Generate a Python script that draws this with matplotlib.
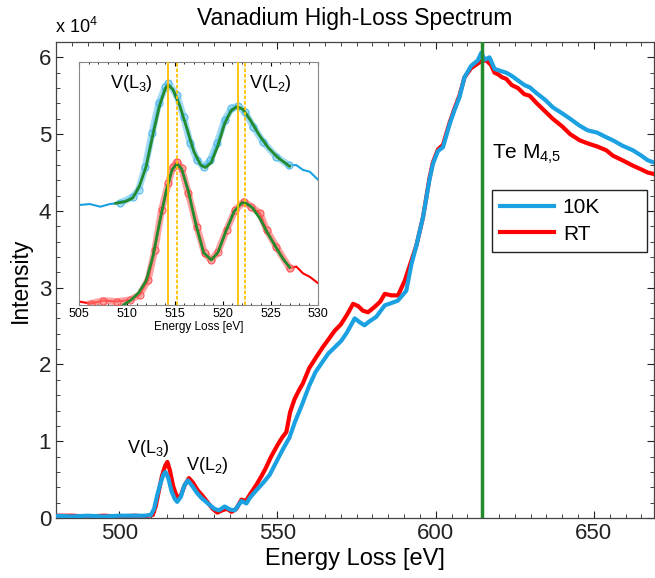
import matplotlib
matplotlib.use("Agg")
import matplotlib.pyplot as plt
from matplotlib.ticker import MultipleLocator

plt.rcParams['font.family'] = ['Liberation Sans', 'DejaVu Sans']
plt.rcParams['mathtext.fontset'] = 'custom'
plt.rcParams['mathtext.rm'] = 'Liberation Sans'

# ---------------- main spectrum data (intensity in units of 1e4) ----------------
x_10k = [480, 485, 490, 495, 500, 505, 508, 510, 511, 512, 513, 514, 514.6, 515.5, 516.5,
         517.5, 518.3, 519.5, 520.5, 521.7, 523, 524.5, 526, 528, 530, 531.5, 533.3, 535,
         536.5, 538.6, 540.2, 541.2, 543.3, 545.5, 547.5, 549.5, 551.5, 553.8, 555.5, 557.5,
         560, 562, 564, 566, 568, 570.2, 572, 574.4, 576, 577.5, 579, 581.2, 583.9, 586, 588,
         590.7, 592.3, 593.9, 596, 598, 599.1, 600.7, 602.3, 604.4, 606, 607.5, 609.1, 611.2,
         613.3, 614.4, 615.5, 617, 618.6, 620, 622.3, 624, 626, 628, 629.7, 632, 634.5, 637,
         640, 642.5, 645.5, 648, 651, 653.9, 656, 659, 662.3, 665, 667, 669]
y_10k = [0.03, 0.02, 0.03, 0.02, 0.03, 0.03, 0.03, 0.04, 0.12, 0.30, 0.45, 0.57, 0.60, 0.52, 0.35,
         0.25, 0.21, 0.28, 0.42, 0.49, 0.42, 0.33, 0.26, 0.19, 0.12, 0.10, 0.15, 0.11,
         0.10, 0.22, 0.19, 0.26, 0.36, 0.46, 0.56, 0.72, 0.88, 1.05, 1.25, 1.45,
         1.72, 1.90, 2.02, 2.14, 2.22, 2.31, 2.42, 2.60, 2.55, 2.51, 2.56, 2.62, 2.77, 2.80, 2.83,
         2.96, 3.30, 3.55, 3.92, 4.40, 4.61, 4.78, 4.83, 5.13, 5.32, 5.48, 5.74, 5.89,
         5.96, 6.06, 5.97, 6.00, 5.85, 5.83, 5.80, 5.76, 5.70, 5.64, 5.61, 5.53, 5.45, 5.35,
         5.27, 5.20, 5.11, 5.05, 5.02, 4.96, 4.92, 4.85, 4.79, 4.72, 4.66, 4.63]

x_rt = [480, 485, 490, 495, 500, 505, 508, 510.6, 511.5, 512.5, 513.5, 514.5, 515.2, 516, 517,
        518.3, 519.5, 520.7, 522, 523.3, 524.8, 526.3, 528, 529.5, 531, 532.5, 534, 535.5, 537,
        538.6, 540, 541.5, 543.3, 545, 546.3, 548, 550, 551.5, 552.8, 554, 555.4, 557, 558,
        560, 562, 564.4, 566, 568.1, 570, 572, 573.9, 575.5, 577, 578.6, 580.7, 582.5, 583.9,
        586, 588.1, 590.2, 592.3, 593.9, 596, 598, 599.1, 600.7, 602.3, 604.4, 606, 607.5,
        609.1, 611.2, 613.3, 614.4, 616, 617.5, 618.6, 619.7, 621, 622.3, 624, 626, 628,
        629.7, 632, 634.5, 637, 640, 642.5, 645.5, 648, 651, 653.9, 656, 659, 662.3, 665, 667, 669]
y_rt = [0.03, 0.03, 0.02, 0.03, 0.02, 0.03, 0.02, 0.04, 0.15, 0.35, 0.55, 0.68, 0.73, 0.62, 0.42,
        0.26, 0.30, 0.43, 0.52, 0.46, 0.36, 0.29, 0.20, 0.12, 0.07, 0.10, 0.12, 0.08, 0.12,
        0.24, 0.22, 0.32, 0.43, 0.55, 0.65, 0.80, 0.95, 1.05, 1.12, 1.38, 1.55, 1.68, 1.75,
        1.95, 2.08, 2.23, 2.32, 2.44, 2.52, 2.65, 2.79, 2.76, 2.70, 2.68, 2.75, 2.82, 2.92,
        2.90, 2.90, 3.09, 3.35, 3.55, 3.92, 4.42, 4.63, 4.80, 4.86, 5.15, 5.34, 5.50,
        5.74, 5.86, 5.92, 5.95, 5.96, 5.90, 5.80, 5.78, 5.74, 5.72, 5.64, 5.60, 5.52,
        5.50, 5.40, 5.30, 5.20, 5.10, 5.00, 4.92, 4.88, 4.84, 4.79, 4.72, 4.66, 4.59, 4.54, 4.50, 4.48]

te_edge = 614.7
series_labels = ['10K', 'RT']

# ---------------- inset data (normalised, offset spectra) ----------------
ix_10k = [505, 506.1, 507.2, 508.2, 509.3, 510.6, 511.2, 511.9, 512.6, 513.3, 514.0, 514.3,
          515.2, 515.9, 516.6, 517.3, 518.0, 518.7, 519.4, 520.2, 520.9, 521.6, 522.3, 523.2,
          524.2, 525.6, 526.9, 527.7, 528.4, 529.1, 530]
iy_10k = [0.411, 0.415, 0.404, 0.415, 0.42, 0.445, 0.473, 0.568, 0.706, 0.829, 0.897, 0.911,
          0.863, 0.774, 0.665, 0.596, 0.568, 0.596, 0.665, 0.760, 0.808, 0.818, 0.794, 0.733,
          0.671, 0.61, 0.575, 0.575, 0.555, 0.548, 0.514]
ix_rt = [505, 506.2, 507.5, 508.9, 510.3, 511.3, 512.2, 512.9, 513.6, 514.3, 514.8, 515.2,
         515.7, 516.4, 517.3, 518.1, 518.8, 519.5, 520.4, 521.3, 522.2, 523.0, 523.9, 524.6,
         525.6, 527.0, 527.7, 528.4, 529.1, 530]
iy_rt = [0.014, 0.006, 0.018, 0.014, 0.021, 0.041, 0.103, 0.226, 0.39, 0.50, 0.568, 0.589,
         0.562, 0.459, 0.322, 0.212, 0.185, 0.219, 0.308, 0.39, 0.425, 0.404, 0.377, 0.308,
         0.24, 0.151, 0.158, 0.13, 0.116, 0.089]
# fitted curves
fx_10k = [508.8, 509.8, 510.6, 511.3, 512.0, 512.7, 513.4, 514.0, 514.3, 514.8, 515.5, 516.3,
          517.0, 517.7, 518.2, 518.8, 519.5, 520.2, 520.9, 521.5, 522.1, 522.9, 523.8, 524.8,
          525.8, 527.0]
fy_10k = [0.418, 0.425, 0.44, 0.49, 0.57, 0.70, 0.82, 0.89, 0.905, 0.885, 0.82, 0.72,
          0.63, 0.575, 0.565, 0.585, 0.655, 0.745, 0.80, 0.815, 0.805, 0.76, 0.70, 0.645,
          0.605, 0.57]
fx_rt = [509.6, 510.4, 511.2, 512.0, 512.7, 513.4, 514.1, 514.7, 515.2, 515.7, 516.4, 517.2,
         518.0, 518.8, 519.5, 520.3, 521.2, 522.0, 522.4, 523.1, 523.9, 524.7, 525.6, 526.3, 527.0]
fy_rt = [0.0, 0.02, 0.05, 0.10, 0.20, 0.34, 0.47, 0.555, 0.58, 0.56, 0.47, 0.33,
         0.215, 0.185, 0.215, 0.30, 0.385, 0.42, 0.42, 0.40, 0.355, 0.295, 0.235, 0.19, 0.155]
peak_solid = [514.3, 521.6]
peak_dashed = [515.2, 522.3]

BLUE = '#1BA1E2'
RED = '#FF0000'
GREEN = '#238B2D'
GOLD = '#FFC000'

fig = plt.figure(figsize=(6.55, 5.78), dpi=100)
ax = fig.add_axes([0.0855, 0.1038, 0.913, 0.8235])

ax.plot(x_rt, y_rt, color=RED, lw=3, label=series_labels[1], zorder=3)
ax.plot(x_10k, y_10k, color=BLUE, lw=3, label=series_labels[0], zorder=4)
ax.axvline(te_edge, color=GREEN, lw=2.5, zorder=5)

ax.set_xlim(480, 669)
ax.set_ylim(0, 6.2)
ax.xaxis.set_major_locator(MultipleLocator(50))
ax.xaxis.set_minor_locator(MultipleLocator(5))
ax.yaxis.set_major_locator(MultipleLocator(1))
ax.yaxis.set_minor_locator(MultipleLocator(0.2))
ax.tick_params(which='both', direction='in', top=True, right=True, labelsize=16, colors='#222222')
ax.tick_params(which='major', length=5)
ax.tick_params(which='minor', length=3)
ax.set_yticks(range(0, 7))
ax.set_yticklabels([str(v) for v in range(0, 7)])
for s in ax.spines.values():
    s.set_color('#444444')
    s.set_linewidth(0.9)

ax.set_xlabel('Energy Loss [eV]', fontsize=17, labelpad=3)
ax.set_ylabel('Intensity', fontsize=16.5, labelpad=5)
ax.set_title('Vanadium High-Loss Spectrum', fontsize=16.5, pad=12)
fig.text(55 / 655, 1 - 33 / 578, r'x 10$^4$', fontsize=13, ha='left', va='baseline')

ax.text(617.7, 4.68, r'Te M$_{4{,}5}$', fontsize=15, ha='left', va='baseline')
ax.text(502.4, 0.85, r'V(L$_3$)', fontsize=13, ha='left', va='baseline')
ax.text(521.0, 0.62, r'V(L$_2$)', fontsize=13, ha='left', va='baseline')

h, l = ax.get_legend_handles_labels()
leg = ax.legend(h[::-1], l[::-1], loc='upper left',
                bbox_to_anchor=(0.729, 0.548, 0.259, 0.141), mode='expand',
                fontsize=15, frameon=True, fancybox=False, edgecolor='#222222',
                framealpha=1, facecolor='white',
                handlelength=2.6, borderpad=0.4, labelspacing=0.35, handletextpad=0.4,
                borderaxespad=0)
leg.get_frame().set_linewidth(1.0)
leg.set_zorder(10)

# ---------------- inset ----------------
ia = fig.add_axes([79.3 / 655, (578 - 305) / 578, 239 / 655, 243.3 / 578])
ia.plot(ix_10k, iy_10k, color=BLUE, lw=1.5, zorder=2)
ia.plot(ix_rt, iy_rt, color=RED, lw=1.5, zorder=2)
sel_b = [(x, y) for x, y in zip(ix_10k, iy_10k) if 508.5 <= x <= 527.2]
sel_r = [(x, y) for x, y in zip(ix_rt, iy_rt) if 506 <= x <= 527.2]
ia.plot([p[0] for p in sel_b], [p[1] for p in sel_b], color='#7FCDF2', lw=5, alpha=0.7, zorder=2.5)
ia.plot([p[0] for p in sel_r], [p[1] for p in sel_r], color='#FF7A7A', lw=5, alpha=0.7, zorder=2.5)
ia.plot([p[0] for p in sel_b], [p[1] for p in sel_b], 'o', mfc='none', mec='#4DB8EA', ms=5, mew=0.8, zorder=3)
ia.plot([p[0] for p in sel_r], [p[1] for p in sel_r], 'o', mfc='none', mec='#FF5050', ms=5, mew=0.8, zorder=3)
ia.plot(fx_10k, fy_10k, color=GREEN, lw=2, zorder=4)
ia.plot(fx_rt, fy_rt, color=GREEN, lw=2, zorder=4)
for xv in peak_solid:
    ia.axvline(xv, color=GOLD, lw=1.3, zorder=5)
for xv in peak_dashed:
    ia.axvline(xv, color=GOLD, lw=1.3, ls=(0, (2, 1)), zorder=5)
ia.set_xlim(505, 530)
ia.set_ylim(0, 1)
ia.set_yticks([])
ia.xaxis.set_major_locator(MultipleLocator(5))
ia.xaxis.set_minor_locator(MultipleLocator(1))
ia.tick_params(which='both', direction='in', top=True, labelsize=9, pad=2)
ia.tick_params(which='major', length=3)
ia.tick_params(which='minor', length=1.5)
ia.set_xlabel('Energy Loss [eV]', fontsize=8.5, labelpad=1)
for s in ia.spines.values():
    s.set_color('#888888')
    s.set_linewidth(0.8)
ia.text(508.2, 0.89, r'V(L$_3$)', fontsize=13, ha='left', va='baseline')
ia.text(522.8, 0.89, r'V(L$_2$)', fontsize=13, ha='left', va='baseline')

fig.savefig('out.png', dpi=100)
